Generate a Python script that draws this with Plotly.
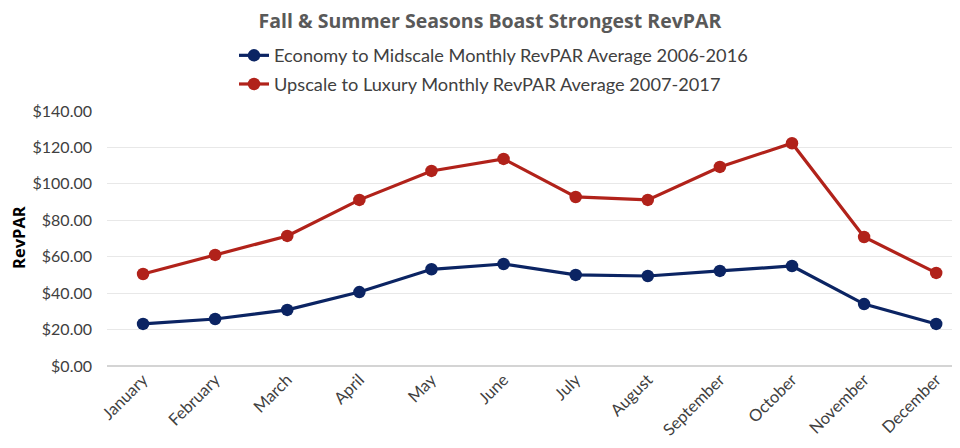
import plotly.graph_objects as go

months = ["January", "February", "March", "April", "May", "June", "July",
          "August", "September", "October", "November", "December"]
economy = [23.1, 25.8, 30.8, 40.6, 53.1, 56.0, 50.0, 49.4, 52.2, 54.9, 34.0, 23.1]
upscale = [50.5, 61.0, 71.4, 91.2, 107.1, 113.7, 92.8, 91.2, 109.3, 122.3, 70.8, 51.1]
series_names = ["Economy to Midscale Monthly RevPAR Average 2006-2016",
                "Upscale to Luxury Monthly RevPAR Average 2007-2017"]
y_ticks = [0, 20, 40, 60, 80, 100, 120, 140]

BLUE = "#0B2463"
RED = "#B1221A"
FONT = "Lato, 'Open Sans', sans-serif"

# page body has an 8px margin, so figure coords = screen coords - 8
L, T, B, R = 99, 103, 90, 8
PW, PH = 960 - L - R, 448 - T - B

fig = go.Figure()
fig.add_trace(go.Scatter(x=list(range(12)), y=economy, mode="lines+markers",
                         name=series_names[0], legendgroup="a",
                         line=dict(color=BLUE, width=3.2),
                         marker=dict(color=BLUE, size=12.5)))
fig.add_trace(go.Scatter(x=list(range(12)), y=upscale, mode="lines+markers",
                         name=series_names[1], legendgroup="b",
                         line=dict(color=RED, width=3.2),
                         marker=dict(color=RED, size=12.5)))

fig.update_layout(
    width=960, height=448,
    margin=dict(l=L, r=R, t=T, b=B),
    paper_bgcolor="white", plot_bgcolor="white",
    font=dict(family=FONT, color="#404040"),
    title=dict(text="<b>Fall & Summer Seasons Boast Strongest RevPAR</b>",
               x=482 / 960, xanchor="center", y=1 - 13 / 448, yanchor="middle",
               yref="container",
               font=dict(family="'Open Sans', sans-serif", size=19.5, color="#595959")),
    legend=dict(x=(226 - L) / PW, xanchor="left", y=1 + (T - 29) / PH, yanchor="top",
                font=dict(size=18.2, color="#404040", family=FONT),
                bgcolor="rgba(0,0,0,0)", itemwidth=30, tracegroupgap=2,
                traceorder="grouped"),
    showlegend=True,
    annotations=[dict(text="<b>RevPAR</b>", textangle=-90,
                      x=(10 - L) / PW, xref="paper",
                      y=(448 - B - 230) / PH, yref="paper",
                      showarrow=False, xanchor="center", yanchor="middle",
                      font=dict(size=16.5, color="#000000",
                                family="'Open Sans', sans-serif"))],
)

fig.update_xaxes(
    tickmode="array", tickvals=list(range(12)), ticktext=months,
    range=[-0.5, 11.33], tickangle=-45, showgrid=False, zeroline=False,
    showline=False, ticks="", automargin=False,
    tickfont=dict(size=16.5, color="#404040", family=FONT),
)
fig.update_yaxes(
    range=[0, 140], tickvals=y_ticks,
    ticktext=[f"${v:.2f}" for v in y_ticks],
    showgrid=True, gridcolor="#E8E8E8", gridwidth=1,
    zeroline=True, zerolinecolor="#D4D4D4", zerolinewidth=1.5,
    ticks="", ticklabelstandoff=14, automargin=False,
    tickfont=dict(size=16, color="#404040", family=FONT),
)

fig.write_html("out.html")
